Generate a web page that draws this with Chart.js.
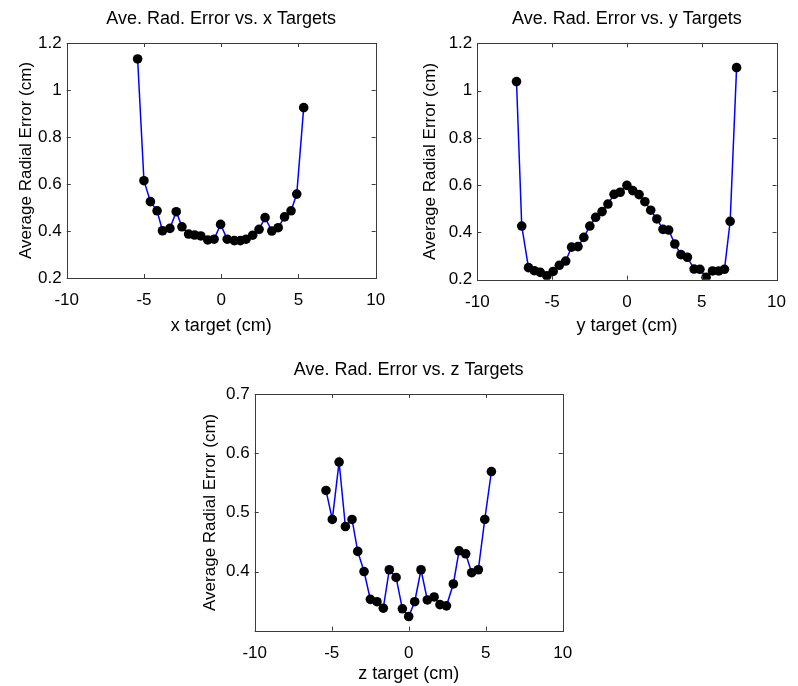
<!DOCTYPE html>
<html>
<head>
<meta charset="utf-8">
<script src="https://cdn.jsdelivr.net/npm/chart.js@4.4.1/dist/chart.umd.min.js"></script>
<style>
  body { margin: 0; background: #fff; width: 798px; height: 686px; position: relative; overflow: hidden; }
  canvas { position: absolute; }
</style>
</head>
<body>
<canvas id="chartX" width="399" height="343" style="left:0;top:0"></canvas>
<canvas id="chartY" width="398" height="343" style="left:400px;top:0"></canvas>
<canvas id="chartZ" width="420" height="343" style="left:180px;top:343px"></canvas>
<script>
// x targets
const xTargets = [-5.41, -5.00, -4.58, -4.15, -3.80, -3.32, -2.91, -2.54, -2.11, -1.72, -1.32, -0.87, -0.46, -0.04,
  0.39, 0.85, 1.24, 1.61, 2.04, 2.45, 2.84, 3.28, 3.69, 4.10, 4.52, 4.89, 5.34];
const xErrors = [1.132, 0.614, 0.525, 0.486, 0.401, 0.411, 0.482, 0.418, 0.387, 0.383, 0.379, 0.362, 0.365, 0.428,
  0.365, 0.359, 0.359, 0.365, 0.382, 0.407, 0.457, 0.400, 0.414, 0.460, 0.486, 0.557, 0.925];

// y targets
const yTargets = [-7.38, -7.03, -6.58, -6.19, -5.79, -5.35, -4.93, -4.52, -4.09, -3.70, -3.27, -2.88, -2.48, -2.09,
  -1.66, -1.27, -0.86, -0.45, 0.00, 0.39, 0.81, 1.20, 1.59, 2.00, 2.41, 2.79, 3.20, 3.61, 4.04, 4.49, 4.88, 5.29,
  5.72, 6.13, 6.52, 6.90, 7.33];
const yErrors = [1.038, 0.427, 0.251, 0.238, 0.231, 0.216, 0.235, 0.261, 0.279, 0.338, 0.340, 0.379, 0.427, 0.464,
  0.488, 0.520, 0.561, 0.570, 0.599, 0.577, 0.560, 0.530, 0.494, 0.457, 0.413, 0.410, 0.351, 0.306, 0.295, 0.245,
  0.244, 0.210, 0.237, 0.237, 0.244, 0.447, 1.097];

// z targets
const zTargets = [-5.37, -4.96, -4.52, -4.11, -3.68, -3.31, -2.90, -2.49, -2.06, -1.65, -1.26, -0.82, -0.41, 0.00,
  0.39, 0.80, 1.21, 1.65, 2.03, 2.45, 2.90, 3.27, 3.70, 4.09, 4.52, 4.94, 5.37];
const zErrors = [0.537, 0.488, 0.585, 0.476, 0.488, 0.434, 0.400, 0.353, 0.349, 0.338, 0.403, 0.390, 0.337, 0.324,
  0.349, 0.403, 0.352, 0.357, 0.344, 0.342, 0.379, 0.435, 0.430, 0.398, 0.403, 0.488, 0.569];

const xTickValues = [-10, -5, 0, 5, 10];

Chart.defaults.font.family = '"Liberation Sans", Arial, Helvetica, sans-serif';
Chart.defaults.font.size = 17;
Chart.defaults.color = '#000';

// matlab style box with inward ticks
const boxTicks = {
  id: 'boxTicks',
  afterDraw(chart) {
    const { ctx, chartArea: a, scales } = chart;
    ctx.save();
    ctx.strokeStyle = '#3c3c3c';
    ctx.lineWidth = 1;
    ctx.beginPath();
    scales.x.ticks.forEach(t => {
      const px = Math.round(scales.x.getPixelForValue(t.value)) + 0.5;
      ctx.moveTo(px, a.bottom); ctx.lineTo(px, a.bottom - 4);
      ctx.moveTo(px, a.top); ctx.lineTo(px, a.top + 4);
    });
    scales.y.ticks.forEach(t => {
      const py = Math.round(scales.y.getPixelForValue(t.value)) + 0.5;
      ctx.moveTo(a.left, py); ctx.lineTo(a.left + 4, py);
      ctx.moveTo(a.right, py); ctx.lineTo(a.right - 4, py);
    });
    ctx.stroke();
    ctx.strokeRect(Math.round(a.left) + 0.5, Math.round(a.top) + 0.5,
      Math.round(a.right) - Math.round(a.left), Math.round(a.bottom) - Math.round(a.top));
    ctx.restore();
  }
};

function makeChart(id, xs, ys, cfg) {
  const points = xs.map((x, i) => ({ x: x, y: ys[i] }));
  return new Chart(document.getElementById(id), {
    type: 'line',
    data: {
      datasets: [{
        data: points,
        borderColor: '#0000ff',
        borderWidth: 1.5,
        pointRadius: 4.8,
        pointBackgroundColor: '#000',
        pointBorderWidth: 0,
        tension: 0
      }]
    },
    options: {
      responsive: false,
      animation: false,
      devicePixelRatio: 1,
      layout: { padding: { left: 0, right: cfg.right, top: 0, bottom: 0 } },
      plugins: {
        legend: { display: false },
        tooltip: { enabled: false },
        title: {
          display: true,
          fullSize: false,
          text: cfg.title,
          font: { size: 18, weight: 'normal' },
          padding: { top: cfg.titleTop, bottom: cfg.titleBottom }
        }
      },
      scales: {
        x: {
          type: 'linear',
          min: -10, max: 10,
          afterBuildTicks: s => { s.ticks = xTickValues.map(v => ({ value: v })); },
          grid: { display: false, drawTicks: false },
          border: { display: false },
          ticks: { padding: 12, maxRotation: 0 },
          title: { display: true, text: cfg.xLabel, font: { size: 18 }, padding: { top: 0, bottom: cfg.xLabelBottom } },
          afterFit: s => { s.height = cfg.xHeight; }
        },
        y: {
          min: cfg.yMin, max: cfg.yMax,
          afterBuildTicks: s => { s.ticks = cfg.yTicks.map(v => ({ value: v })); },
          grid: { display: false, drawTicks: false },
          border: { display: false },
          ticks: { padding: 5, callback: cfg.yFormat },
          title: { display: true, text: 'Average Radial Error (cm)', font: { size: 17 }, padding: { top: cfg.yLabelTop, bottom: 0 } },
          afterFit: s => { s.width = cfg.yWidth; }
        }
      }
    },
    plugins: [boxTicks]
  });
}

makeChart('chartX', xTargets, xErrors, {
  title: 'Ave. Rad. Error vs. x Targets', xLabel: 'x target (cm)',
  right: 23.3, titleTop: 8.7, titleBottom: 12.7, xHeight: 65, xLabelBottom: 6.4,
  yWidth: 66.7, yLabelTop: 16, yMin: 0.2, yMax: 1.2, yTicks: [0.2, 0.4, 0.6, 0.8, 1.0, 1.2],
  yFormat: v => String(Math.round(v * 10) / 10)
});

makeChart('chartY', yTargets, yErrors, {
  title: 'Ave. Rad. Error vs. y Targets', xLabel: 'y target (cm)',
  right: 11.3, titleTop: 8.7, titleBottom: 13.0, xHeight: 63.3, xLabelBottom: 6.4,
  yWidth: 77.3, yLabelTop: 20, yMin: 0.2, yMax: 1.2, yTicks: [0.2, 0.4, 0.6, 0.8, 1.0, 1.2],
  yFormat: v => String(Math.round(v * 10) / 10)
});

makeChart('chartZ', zTargets, zErrors, {
  title: 'Ave. Rad. Error vs. z Targets', xLabel: 'z target (cm)',
  right: 37.3, titleTop: 16.7, titleBottom: 12.7, xHeight: 55.3, xLabelBottom: 1.4,
  yWidth: 74.7, yLabelTop: 20, yMin: 0.3, yMax: 0.7, yTicks: [0.3, 0.4, 0.5, 0.6, 0.7],
  yFormat: v => (v < 0.35 ? '' : String(Math.round(v * 10) / 10))
});
</script>
</body>
</html>
